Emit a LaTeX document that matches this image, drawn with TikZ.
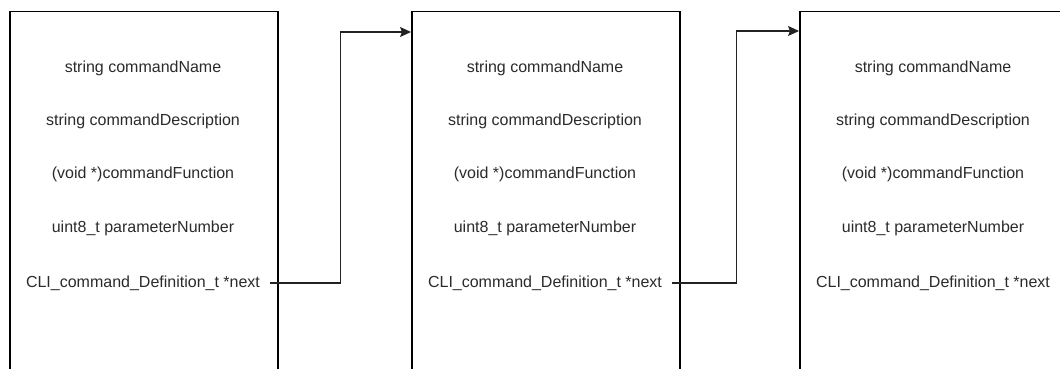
\documentclass[tikz,border=0pt]{standalone}
\usepackage{fontspec}
\setmainfont{Liberation Sans}
\usetikzlibrary{arrows.meta}
\definecolor{txtgray}{HTML}{2B2B2B}
\definecolor{linegray}{HTML}{222222}
\tikzset{
  structbox/.style={draw=black, line width=1.5pt, fill=none, minimum width=268pt,
    minimum height=400pt, anchor=north west, inner sep=0pt},
  field/.style={font=\fontsize{16pt}{18pt}\selectfont, text=txtgray, minimum width=254pt,
    inner sep=0pt, text height=12pt, text depth=3.5pt, anchor=center},
  link/.style={draw=linegray, line width=1.1pt,
    -{Stealth[length=11pt, width=10pt, inset=2pt]}}
}
\begin{document}
\begin{tikzpicture}[x=1pt, y=-1pt]
  \useasboundingbox (0,0) rectangle (1060,369);
  \clip (0,0) rectangle (1060,369);
  \fill[white] (0,0) rectangle (1060,369);

  % three list elements of type CLI_command_Definition_t
  \foreach \i/\x in {1/9, 2/411, 3/799} {
    \node[structbox] (box\i) at (\x,11) {};
    \node[field] (fa\i) at ([xshift=134pt]\x,68) {string commandName};
    \node[field] (fb\i) at ([xshift=134pt]\x,121) {string commandDescription};
    \node[field] (fc\i) at ([xshift=134pt]\x,174) {(void *)commandFunction};
    \node[field] (fd\i) at ([xshift=134pt]\x,228) {uint8\_t parameterNumber};
    \node[field] (fe\i) at ([xshift=134pt]\x,283) {CLI\_command\_Definition\_t *next};
  }

  % entry points of the next pointers
  \coordinate (in2) at ([yshift=-21pt]box2.north west);
  \coordinate (in3) at ([yshift=-20pt]box3.north west);

  % next pointers
  \draw[link] (fe1.east) -- ++(70,0) |- (in2);
  \draw[link] (fe2.east) -- ++(64,0) |- (in3);
\end{tikzpicture}
\end{document}
